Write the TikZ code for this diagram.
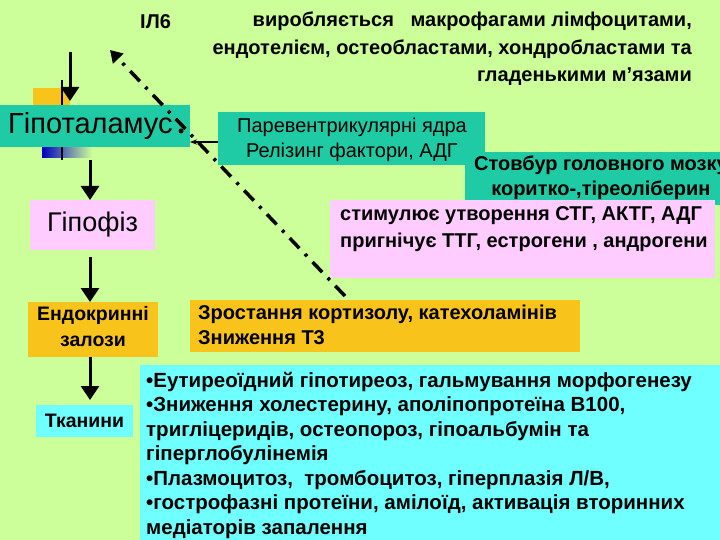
\documentclass[tikz,border=0pt]{standalone}
\usepackage{fontspec}
\setmainfont{Liberation Sans}
\usetikzlibrary{arrows.meta}
\definecolor{bg}{HTML}{CCFF99}
\definecolor{teal1}{HTML}{1FCBA5}
\definecolor{pink1}{HTML}{FFCCFF}
\definecolor{org}{HTML}{F8C41C}
\definecolor{cyan1}{HTML}{6FFFFF}
\tikzset{
 box/.style={anchor=north west,inner sep=0pt,outer sep=0pt},
 arr/.style={line width=3pt,-{Triangle[length=14pt,width=18pt]}},
 txt/.style={font=\bfseries\fontsize{20pt}{24pt}\selectfont,align=center,inner sep=0pt}
}
\begin{document}
\begin{tikzpicture}[x=1pt,y=-1pt]
\fill[bg] (0,0) rectangle (720,540);
\useasboundingbox (0,0) rectangle (720,540);
% title
\node[font=\bfseries\fontsize{20pt}{24pt}\selectfont,anchor=west,inner sep=0pt] (il) at (140,22) {ІЛ6};
\node[font=\bfseries\fontsize{20pt}{27.5pt}\selectfont,align=right,anchor=north east,inner sep=0pt] (title) at (692,12)
 {виробляється \ \ макрофагами лімфоцитами,\\ендотелієм, остеобластами, хондробластами та\\гладенькими м’язами};
% decorations near hypothalamus
\fill[org] (33,88) rectangle (70,106);
\shade[left color=blue!75!black,right color=bg] (42,147) rectangle (92,158);
\draw[line width=1.5pt] (62,80) -- (62,160);
% hypothalamus
\node[box,fill=teal1,minimum width=190pt,minimum height=42pt] (hyp) at (0,105) {};
\node[font=\fontsize{29pt}{32pt}\selectfont,anchor=west,inner sep=0pt] (hyptxt) at (8,126) {Гіпоталамус};
\fill (181,131) circle (2.5pt);
\coordinate (intop) at (70,52);
\coordinate (inbot) at (70,101);
\draw[arr] (intop) -- (inbot);
% paraventricular
\node[box,fill=teal1,minimum width=267pt,minimum height=53pt] (par) at (218,112) {};
\node[txt,font=\fontsize{20pt}{25pt}\selectfont] (partxt) at (352,140) {Паревентрикулярні ядра\\Релізинг фактори, АДГ};
\draw[line width=1.2pt,-{Stealth[length=7pt]}] (218,142) -- (hyp.east |- 0,142);
% brainstem
\node[box,fill=teal1,minimum width=255pt,minimum height=53pt] (stem) at (465,152) {};
\begin{scope}
\clip (0,0) rectangle (720,540);
\node[txt,font=\bfseries\fontsize{20pt}{25pt}\selectfont,anchor=west] (stemtxt) at (474,178) {Стовбур головного мозку\\коритко-,тіреоліберин};
\end{scope}
% pituitary
\node[box,fill=pink1,minimum width=125pt,minimum height=50pt] (pit) at (30,200) {};
\node[font=\fontsize{27pt}{30pt}\selectfont,inner sep=0pt] (pittxt) at (pit.center) {Гіпофіз};
\node[box,fill=pink1,minimum width=385pt,minimum height=78pt] (stim) at (330,200) {};
\node[txt,font=\bfseries\fontsize{20pt}{27pt}\selectfont,align=left,anchor=north west] (stimtxt) at (340,206) {стимулює утворення СТГ, АКТГ, АДГ\\пригнічує ТТГ, естрогени , андрогени};
% endocrine
\node[box,fill=org,minimum width=130pt,minimum height=55pt] (endo) at (28,302) {};
\node[txt,font=\bfseries\fontsize{19.5pt}{26pt}\selectfont] (endotxt) at ([yshift=3pt]endo.center) {Ендокринні\\залози};
\node[box,fill=org,minimum width=390pt,minimum height=52pt] (cort) at (190,300) {};
\node[txt,font=\bfseries\fontsize{20pt}{25pt}\selectfont,align=left,anchor=north west] (corttxt) at (198,305) {Зростання кортизолу, катехоламінів\\Зниження Т3};
% tissues
\node[box,fill=cyan1,minimum width=97pt,minimum height=32pt] (tis) at (36,405) {};
\node[txt,font=\bfseries\fontsize{19.5pt}{24pt}\selectfont] (tistxt) at (tis.center) {Тканини};
\node[box,fill=cyan1,minimum width=580pt,minimum height=175pt] (eff) at (140,365) {};
\node[txt,font=\bfseries\fontsize{20.5pt}{24.5pt}\selectfont,align=left,anchor=north west] (efftxt) at (146,372)
{•Еутиреоїдний гіпотиреоз, гальмування морфогенезу\\
•Зниження холестерину, аполіпопротеїна В100,\\
тригліцеридів, остеопороз, гіпоальбумін та\\
гіперглобулінемія\\
•Плазмоцитоз,\ \ тромбоцитоз, гіперплазія Л/В,\\
•гострофазні протеїни, амілоїд, активація вторинних\\
медіаторів запалення};
% vertical arrows
\draw[arr] (90,160) -- (pit.north -| 90,0);
\draw[arr] (90,257) -- (endo.north -| 90,0);
\draw[arr] (90,357) -- (90,400);
% dash-dot feedback arrow
\coordinate (fbstart) at (345,296);
\coordinate (fbend) at (110,50);
\draw[line width=3.5pt,dash pattern=on 14pt off 8pt on 3pt off 8pt,-{Triangle[length=12pt,width=14pt]}] (fbstart) -- (fbend);
\end{tikzpicture}
\end{document}
